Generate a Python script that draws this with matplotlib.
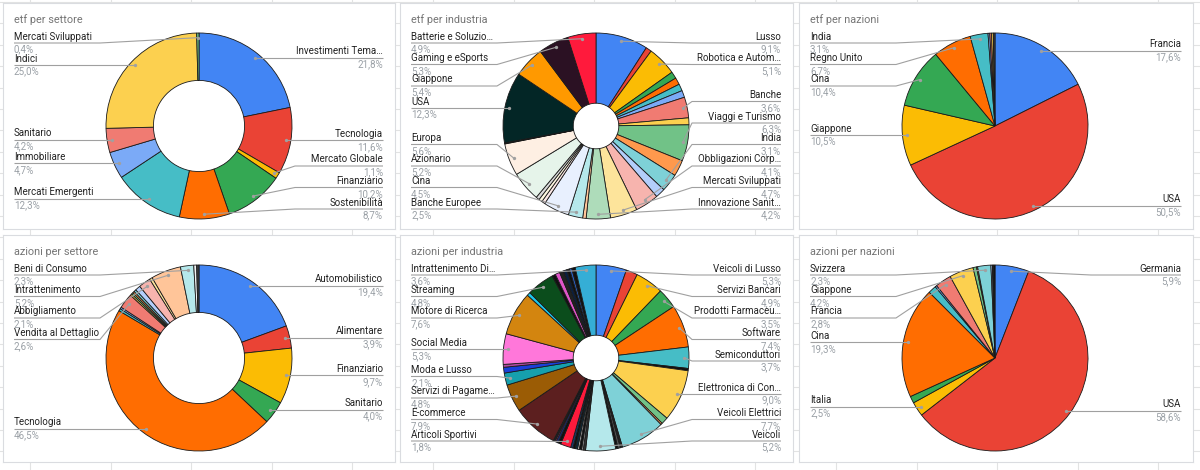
import matplotlib
matplotlib.use('Agg')
import matplotlib.pyplot as plt
import numpy as np

plt.rcParams['font.family'] = ['Roboto', 'DejaVu Sans']

# --- etf per settore ---
etf_settore_nomi = ['Investimenti Tema…', 'Tecnologia', 'Mercato Globale', 'Finanziario',
                    'Sostenibilità', 'Mercati Emergenti', 'Immobiliare', 'Sanitario',
                    'Indici', 'Mercati Sviluppati']
etf_settore_valori = [21.8, 11.6, 1.1, 10.2, 8.7, 12.3, 4.7, 4.2, 25.0, 0.4]
etf_settore_colori = ['#4285F4', '#EA4335', '#FBBC04', '#34A853', '#FF6D01', '#46BDC6',
                      '#7BAAF7', '#F07B72', '#FCD04F', '#71C287']

# --- etf per industria ---
etf_industria_nomi = ['Lusso', '', 'Robotica e Autom…', '', '', '', '', 'Banche', '',
                      'Viaggi e Turismo', '', 'India', '', 'Obbligazioni Corp…',
                      'Mercati Sviluppati', 'Innovazione Sanit…', '', 'Banche Europee',
                      'Cina', '', '', '', 'Azionario', 'Europa', '', '', 'USA', 'Giappone',
                      'Gaming e eSports', 'Batterie e Soluzio…']
etf_industria_valori = [9.1, 1.0, 5.1, 1.2, 1.2, 1.2, 1.2, 3.6, 1.2, 6.3, 2.8, 3.1, 1.7,
                        4.1, 4.7, 4.2, 0.6, 2.5, 4.5, 0.6, 0.6, 0.6, 5.2, 5.6, 0.1, 0.1,
                        12.3, 5.4, 5.3, 4.9]
etf_industria_colori = ['#4285F4', '#EA4335', '#FBBC04', '#34A853', '#FF6D01', '#46BDC6',
                        '#7BAAF7', '#F07B72', '#FCD04F', '#71C287', '#FF994D', '#7ED1D7',
                        '#B3CEFB', '#F7B4AE', '#FDE49B', '#AEDCBA', '#FFC599', '#B5E8EB',
                        '#E8F0FE', '#FCE8E6', '#FEF7E0', '#D9D9D9', '#E6F4EA', '#FEEFE3',
                        '#F1F3F4', '#3E2000', '#032626', '#FF9900', '#2B1123', '#FF1A3C']

# --- etf per nazioni ---
etf_nazioni_nomi = ['Francia', 'USA', 'Giappone', 'Cina', 'Regno Unito', 'India', '', '', '', '']
etf_nazioni_valori = [17.6, 50.5, 10.5, 10.4, 6.7, 3.1, 0.3, 0.3, 0.3, 0.3]
etf_nazioni_colori = ['#4285F4', '#EA4335', '#FBBC04', '#34A853', '#FF6D01', '#46BDC6',
                      '#7BAAF7', '#F07B72', '#FCD04F', '#3C4043']

# --- azioni per settore ---
azioni_settore_nomi = ['Automobilistico', 'Alimentare', 'Finanziario', 'Sanitario', 'Tecnologia',
                       '', '', 'Vendita al Dettaglio', '', '', '', '', '', 'Abbigliamento', '',
                       'Intrattenimento', 'Beni di Consumo', '', '']
azioni_settore_valori = [19.4, 3.9, 9.7, 4.0, 46.5, 0.4, 0.3, 2.6, 0.3, 0.3, 0.3, 0.4, 0.9,
                         2.1, 0.5, 5.2, 2.3, 0.5, 0.4]
azioni_settore_colori = ['#4285F4', '#EA4335', '#FBBC04', '#34A853', '#FF6D01', '#46BDC6',
                         '#7BAAF7', '#F07B72', '#FCD04F', '#71C287', '#FF994D', '#7ED1D7',
                         '#B3CEFB', '#F7B4AE', '#FDE49B', '#FFC599', '#B5E8EB', '#F1F3F4',
                         '#3C4043']

# --- azioni per industria ---
azioni_industria_nomi = ['Veicoli di Lusso', '', 'Servizi Bancari', 'Prodotti Farmaceu…',
                         'Software', 'Semiconduttori', '', 'Elettronica di Con…', '', '',
                         'Veicoli Elettrici', '', '', '', 'Veicoli', '', '', '', '', '', '', '',
                         'Articoli Sportivi', '', '', '', '', 'E-commerce',
                         'Servizi di Pagame…', 'Moda e Lusso', '', '', 'Social Media',
                         'Motore di Ricerca', '', 'Streaming', '', '', '', '', '', '', '',
                         'Intrattenimento Di…']
azioni_industria_valori = [5.3, 2.0, 4.9, 3.5, 7.4, 3.7, 0.4, 9.0, 1.2, 0.3, 7.7, 0.4, 0.4,
                           0.4, 5.2, 0.4, 0.3, 0.4, 0.3, 0.4, 0.4, 0.4, 1.8, 0.5, 0.4, 0.2,
                           0.3, 7.9, 4.8, 2.1, 1.0, 0.5, 5.3, 7.6, 0.6, 4.8, 0.6, 0.8, 0.7,
                           0.6, 0.5, 0.4, 0.6, 3.6]
azioni_industria_colori = ['#4285F4', '#EA4335', '#FBBC04', '#34A853', '#FF6D01', '#46BDC6',
                           '#111111', '#FCD04F', '#71C287', '#FF994D', '#7ED1D7', '#222222',
                           '#555555', '#111111', '#B5E8EB', '#333333', '#999999', '#111111',
                           '#CCCCCC', '#0A2A3A', '#111111', '#1B3A6B', '#FF1A3C', '#111111',
                           '#1A2A6C', '#E040A0', '#222222', '#5C1F1F', '#9B5C05', '#16A0AD',
                           '#1A3FD9', '#B04AA0', '#FF77DA', '#D3850F', '#1CC8EB', '#0B4D1C',
                           '#111111', '#E055C8', '#222222', '#0B2040', '#111111', '#2A60C0',
                           '#111111', '#35AED6']

# --- azioni per nazioni ---
azioni_nazioni_nomi = ['Germania', 'USA', 'Italia', '', 'Cina', '', '', 'Francia', 'Giappone',
                       '', '', 'Svizzera', '', '', '']
azioni_nazioni_valori = [5.9, 58.6, 2.5, 1.2, 19.3, 1.4, 0.3, 2.8, 4.2, 0.6, 0.2, 2.3,
                         0.25, 0.25, 0.2]
azioni_nazioni_colori = ['#4285F4', '#EA4335', '#FBBC04', '#34A853', '#FF6D01', '#46BDC6',
                         '#7BAAF7', '#F07B72', '#FCD04F', '#71C287', '#FF994D', '#7ED1D7',
                         '#B3CEFB', '#222222', '#000000']

W_FIG, H_FIG = 1200, 470
fig = plt.figure(figsize=(12, 4.7), dpi=100)
fig.patch.set_facecolor('white')

# griglia del foglio di calcolo dietro ai grafici
sfondo = fig.add_axes([0, 0, 1, 1])
sfondo.set_xlim(0, W_FIG)
sfondo.set_ylim(H_FIG, 0)
sfondo.axis('off')
for x in np.arange(30, W_FIG, 80.6):
    sfondo.axvline(x, color='#E2E3E3', lw=0.8)
for y in np.arange(2, H_FIG, 21.4):
    sfondo.axhline(y, color='#E2E3E3', lw=0.8)


def disegna(x0, y0, w, h, titolo, nomi, valori, colori, buco):
    ax = fig.add_axes([x0 / W_FIG, 1 - (y0 + h) / H_FIG, w / W_FIG, h / H_FIG])
    ax.set_facecolor('white')
    cx, cy, r = 196, h - 123, 93
    wp = dict(edgecolor='#1a1a1a', linewidth=0.6)
    if buco:
        wp['width'] = r * (1 - buco)
    spicchi, _ = ax.pie(valori, colors=colori, startangle=90, counterclock=False,
                        center=(cx, cy), radius=r, wedgeprops=wp)
    ax.set_xlim(0, w)
    ax.set_ylim(0, h)
    ax.set_aspect('auto')
    ax.set_frame_on(True)
    ax.set_xticks([])
    ax.set_yticks([])
    for s in ax.spines.values():
        s.set_color('#DADCE0')
        s.set_linewidth(0.8)

    ax.text(11, h - 17, titolo, fontsize=7.8, color='#757575', va='center', ha='left')

    totale = sum(valori)
    lati = {'sx': [], 'dx': []}
    for nome, v, sp in zip(nomi, valori, spicchi):
        if not nome:
            continue
        a = np.deg2rad((sp.theta1 + sp.theta2) / 2)
        px, py = cx + 0.95 * r * np.cos(a), cy + 0.95 * r * np.sin(a)
        lato = 'sx' if px < cx else 'dx'
        lati[lato].append([py, px, nome, v / totale * 100])

    passo, alto, basso = 21.5, h - 40, h - 206
    for lato, lista in lati.items():
        lista.sort(key=lambda e: -e[0])
        ys = []
        for i, e in enumerate(lista):
            y = min(e[0], alto)
            if i:
                y = min(y, ys[-1] - passo)
            ys.append(y)
        for i in range(len(ys) - 1, -1, -1):
            y = max(ys[i], basso)
            if i < len(ys) - 1:
                y = max(y, ys[i + 1] + passo)
            ys[i] = y
        if lato == 'sx':
            tx, gomito, ha = 11, 97, 'left'
        else:
            tx, gomito, ha = w - 12, 292, 'right'
        for (py, px, nome, pct), ly in zip(lista, ys):
            ax.plot([tx, gomito, px], [ly, ly, py], color='#A0A0A0', lw=0.8, zorder=5,
                    solid_capstyle='butt')
            ax.plot(px, py, 'o', ms=2.4, color='#A0A0A0', mec='none', zorder=6)
            ax.text(tx, ly + 1.5, nome, fontsize=7, color='#222222', ha=ha, va='bottom',
                    zorder=7)
            ax.text(tx, ly - 1.5, f"{pct:.1f}".replace('.', ',') + '%', fontsize=7,
                    color='#9AA0A6', ha=ha, va='top', zorder=7)


disegna(3, 3, 392, 226, 'etf per settore', etf_settore_nomi, etf_settore_valori,
        etf_settore_colori, 0.49)
disegna(400, 3, 393, 226, 'etf per industria', etf_industria_nomi, etf_industria_valori,
        etf_industria_colori, 0.245)
disegna(799, 3, 394, 226, 'etf per nazioni', etf_nazioni_nomi, etf_nazioni_valori,
        etf_nazioni_colori, None)
disegna(3, 235, 392, 227, 'azioni per settore', azioni_settore_nomi, azioni_settore_valori,
        azioni_settore_colori, 0.49)
disegna(400, 235, 393, 227, 'azioni per industria', azioni_industria_nomi,
        azioni_industria_valori, azioni_industria_colori, 0.245)
disegna(799, 235, 394, 227, 'azioni per nazioni', azioni_nazioni_nomi, azioni_nazioni_valori,
        azioni_nazioni_colori, None)

plt.savefig('out.png', dpi=100, facecolor='white')
